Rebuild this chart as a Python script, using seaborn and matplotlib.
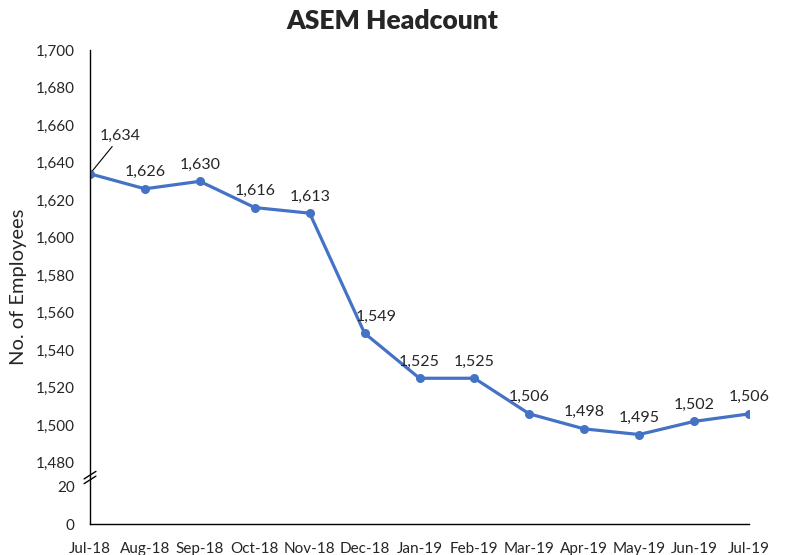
import numpy as np
import matplotlib
matplotlib.use("Agg")
import matplotlib.pyplot as plt
import seaborn as sns
from matplotlib.ticker import FuncFormatter

months = ["Jul-18", "Aug-18", "Sep-18", "Oct-18", "Nov-18", "Dec-18", "Jan-19",
          "Feb-19", "Mar-19", "Apr-19", "May-19", "Jun-19", "Jul-19"]
headcount = [1634, 1626, 1630, 1616, 1613, 1549, 1525, 1525, 1506, 1498, 1495, 1502, 1506]
y_ticks = [0, 20, 1480, 1500, 1520, 1540, 1560, 1580, 1600, 1620, 1640, 1660, 1680, 1700]

# broken axis: 0-24 shown as is, 24..1480 squeezed into a small gap
_src = [-1e5, 0, 24, 1480, 1e5]
_dst = [-1e5, 0, 24, 32.7, 1e5 - 1480 + 32.7]


def fwd(y):
    return np.interp(y, _src, _dst)


def inv(y):
    return np.interp(y, _dst, _src)


sns.set_style("white")
plt.rcParams["font.family"] = ["Lato", "DejaVu Sans"]

fig = plt.figure(figsize=(7.85, 5.55), dpi=100)
ax = fig.add_axes([90 / 785, 31 / 555, 659 / 785, 474 / 555])
ax.set_yscale("function", functions=(fwd, inv))

color = "#4472C4"
sns.lineplot(x=months, y=headcount, ax=ax, color=color, linewidth=2.3,
             marker="o", markersize=6.5, markeredgewidth=0, sort=False)

ax.set_xlim(0, len(months) - 1)
ax.set_ylim(0, 1700)
ax.set_yticks(y_ticks)
ax.yaxis.set_major_formatter(FuncFormatter(lambda v, p: f"{int(v):,}"))
ax.yaxis.set_minor_locator(matplotlib.ticker.NullLocator())
ax.tick_params(axis="both", direction="out", length=5, width=1, color="black",
               labelsize=11, pad=6)
ax.tick_params(axis="x", pad=8)
for s in ["top", "right"]:
    ax.spines[s].set_visible(False)
for s in ["left", "bottom"]:
    ax.spines[s].set_color("black")
    ax.spines[s].set_linewidth(1)

ax.set_xlabel("")
ax.set_ylabel("No. of Employees", fontsize=14.5, labelpad=6)
fig.text(0.5, 1 - 21 / 555, "ASEM Headcount", fontsize=19, fontweight="heavy",
         ha="center", va="center")

# data labels
for i, (m, v) in enumerate(zip(months, headcount)):
    if i == 0:
        ax.annotate(f"{v:,}", xy=(i, v), xytext=(22, 22), textcoords="offset points",
                    ha="center", va="bottom", fontsize=11.5,
                    arrowprops=dict(arrowstyle="-", color="black", lw=0.8,
                                    shrinkA=0, shrinkB=3))
    else:
        dx = 8 if m == "Dec-18" else 0
        ax.annotate(f"{v:,}", xy=(i, v), xytext=(dx, 7), textcoords="offset points",
                    ha="center", va="bottom", fontsize=11.5)

# break marks on y axis
yb = 46 / 474
for off in (-0.004, 0.006):
    ax.plot([-0.009, 0.009], [yb + off - 0.008, yb + off + 0.008],
            transform=ax.transAxes, color="black", lw=1, clip_on=False)

fig.savefig("out.png", dpi=100)
